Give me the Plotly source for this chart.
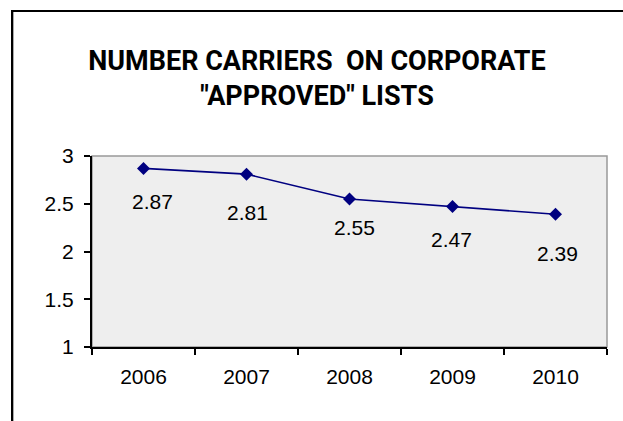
import plotly.graph_objects as go

years = ["2006", "2007", "2008", "2009", "2010"]
values = [2.87, 2.81, 2.55, 2.47, 2.39]
label_text = ["2.87", "2.81", "2.55", "2.47", "2.39"]
# manual label offsets (px) as in the original
label_dx = [9, 1, 5, -1, 2]
label_dy = [-33, -38, -29, -33, -39]

W, H = 623, 421
L, R, T, B = 92, 607, 156, 347

def px(x):
    return (x - L) / (R - L)

def py(y):
    return (B - y) / (B - T)

font_main = "Liberation Sans, Arial, sans-serif"
font_title = "Roboto, Liberation Sans, sans-serif"

fig = go.Figure()
fig.add_trace(go.Scatter(
    x=years, y=values, mode="lines+markers",
    line=dict(color="#000080", width=1.6),
    marker=dict(symbol="diamond", size=10, color="#000080"),
    hoverinfo="skip", showlegend=False,
))

for i, (v, t, dx, dy) in enumerate(zip(values, label_text, label_dx, label_dy)):
    fig.add_annotation(x=i, y=v, text=t, showarrow=False, xref="x", yref="y",
                       xshift=dx, yshift=dy,
                       font=dict(family=font_main, size=21, color="#000000"))

shapes = [
    # plot area border (gray)
    dict(type="rect", xref="x domain", yref="y domain", x0=0, x1=1, y0=0, y1=1,
         line=dict(color="#999999", width=1.5), layer="below"),
    # outer chart border: top and left
    dict(type="line", xref="paper", yref="paper", x0=px(11), x1=px(623), y0=py(11), y1=py(11),
         line=dict(color="#000000", width=2)),
    dict(type="line", xref="paper", yref="paper", x0=px(12), x1=px(12), y0=py(10), y1=py(421),
         line=dict(color="#000000", width=2)),
    dict(type="line", xref="paper", yref="paper", x0=px(13.5), x1=px(13.5), y0=py(12), y1=py(421),
         line=dict(color="#aaaaaa", width=1)),
]

fig.update_layout(
    width=W, height=H,
    margin=dict(l=L, r=W - R, t=T, b=H - B, pad=0),
    paper_bgcolor="#ffffff", plot_bgcolor="#eeeeee",
    title=dict(text="NUMBER CARRIERS  ON CORPORATE<br>\"APPROVED\" LISTS",
               xref="container", yref="container", x=317 / W, xanchor="center",
               y=1 - 70 / H, yanchor="top",
               font=dict(family=font_title, size=27, color="#000000", weight="bold")),
    shapes=shapes,
    xaxis=dict(type="category", range=[-0.5, 4.5], tickson="boundaries",
               showline=True, linecolor="#000000", linewidth=2,
               ticks="outside", ticklen=6, tickwidth=2, tickcolor="#000000",
               showgrid=False, zeroline=False, ticklabelstandoff=10,
               tickfont=dict(family=font_main, size=21, color="#000000")),
    yaxis=dict(range=[1, 3], tickmode="array", tickvals=[1, 1.5, 2, 2.5, 3],
               ticktext=["1", "1.5", "2", "2.5", "3"],
               showline=True, linecolor="#000000", linewidth=2,
               ticks="outside", ticklen=6, tickwidth=2, tickcolor="#000000",
               showgrid=False, zeroline=False, ticklabelstandoff=6,
               tickfont=dict(family=font_main, size=21, color="#000000")),
)

fig.write_html("out.html")
